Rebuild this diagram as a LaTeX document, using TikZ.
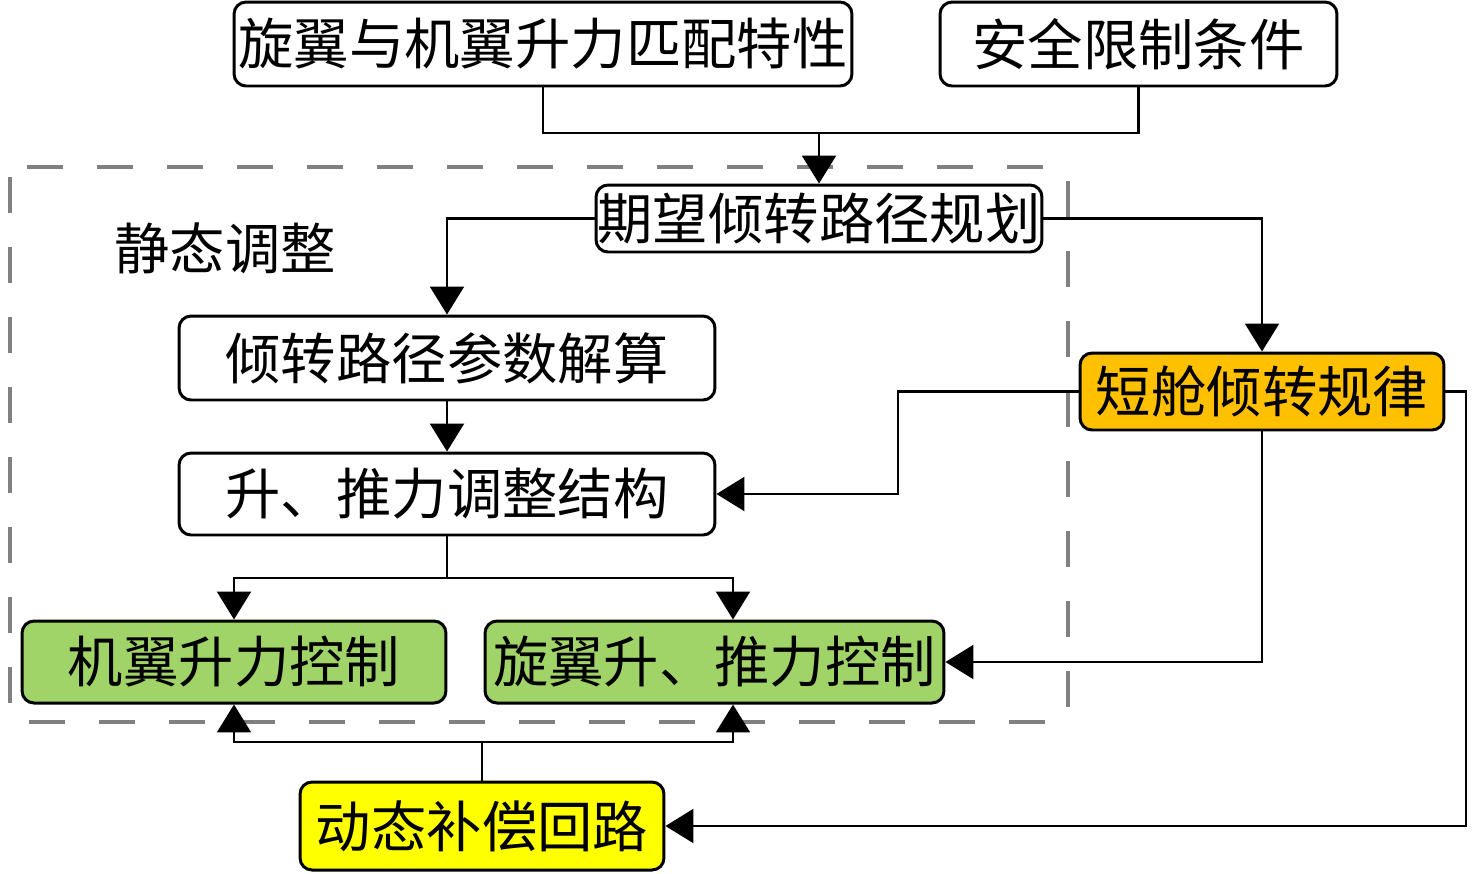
\documentclass[tikz,border=0pt]{standalone}
\usepackage{fontspec}
\setmainfont{Noto Sans CJK SC}
\usepackage{tikz}
\usetikzlibrary{arrows.meta, positioning, calc}
\usepackage{xcolor}
\definecolor{CtrlGreen}{HTML}{A0D468}
\definecolor{LawOrange}{HTML}{FFC000}
\definecolor{LoopYellow}{HTML}{FFFF00}
\definecolor{FrameGray}{HTML}{808080}
\tikzset{
    % Node styles
    planbox/.style={
        rectangle,
        rounded corners=0.24cm,
        draw=black,
        fill=white,
        line width=1.7pt,
        inner sep=0pt,
        text centered,
        font=\fontsize{31.5}{36}\selectfont
    },
    ctrlbox/.style={
        planbox,
        fill=CtrlGreen
    },
    % Arrow styles
    myline/.style={
        line width=1.3pt,
        black
    },
    myarrow/.style={
        myline,
        -{Triangle[length=0.56cm,width=0.68cm]}
    },
    % Frame style
    staticframe/.style={
        draw=FrameGray,
        line width=2pt,
        dash pattern=on 0.72cm off 0.68cm,
        rounded corners=0.2cm
    }
}
\begin{document}
\begin{tikzpicture}[x=0.02cm, y=-0.02cm]
    \useasboundingbox (0,0) rectangle (1476,873);

    % Static adjustment frame
    \draw[staticframe] (10,167) rectangle (1068,722);
    \node[font=\fontsize{31.5}{36}\selectfont] (stat) at (225,248) {静态调整};

    % Inputs
    \node[planbox,minimum width=12.36cm,minimum height=1.68cm] (match) at (543,44) {旋翼与机翼升力匹配特性};
    \node[planbox,minimum width=7.94cm,minimum height=1.68cm] (safe) at (1138.5,44) {安全限制条件};

    % Planning and solving
    \node[planbox,minimum width=8.92cm,minimum height=1.34cm] (plan) at (819,218.5) {期望倾转路径规划};
    \node[planbox,minimum width=10.72cm,minimum height=1.68cm] (solve) at (447,358) {倾转路径参数解算};
    \node[planbox,minimum width=10.72cm,minimum height=1.64cm] (adjust) at (447,494) {升、推力调整结构};

    % Control blocks
    \node[ctrlbox,minimum width=8.48cm,minimum height=1.64cm] (wing) at (234,662) {机翼升力控制};
    \node[ctrlbox,minimum width=9.18cm,minimum height=1.64cm] (rotor) at (714.5,662) {旋翼升、推力控制};

    % Nacelle law and compensation loop
    \node[planbox,fill=LawOrange,minimum width=7.28cm,minimum height=1.54cm] (nacelle) at (1262,391.5) {短舱倾转规律};
    \node[planbox,fill=LoopYellow,minimum width=7.28cm,minimum height=1.76cm] (loop) at (482,826) {动态补偿回路};

    % Branch points
    \coordinate (join) at (819,133);
    \coordinate (fork) at (447,578);
    \coordinate (merge) at (482,742);
    \coordinate (bendE) at (898,494);
    \coordinate (bendR) at (1466,391.5);

    % Arrows
    \draw[myline] (match.south) |- (join) -| (safe.south);
    \draw[myarrow] (join) -- (plan.north);
    \draw[myarrow] (plan.west) -| (solve.north);
    \draw[myarrow] (plan.east) -| (nacelle.north);
    \draw[myarrow] (solve.south) -- (adjust.north);
    \draw[myline] (adjust.south) -- (fork);
    \draw[myarrow] (fork) -| (wing.north);
    \draw[myarrow] (fork) -| ([xshift=0.37cm]rotor.north);
    \draw[myarrow] (nacelle.west) -| (bendE) -- (adjust.east);
    \draw[myarrow] (nacelle.south) |- (rotor.east);
    \draw[myarrow] (nacelle.east) -- (bendR) |- (loop.east);
    \draw[myline] (loop.north) -- (merge);
    \draw[myarrow] (merge) -| (wing.south);
    \draw[myarrow] (merge) -| ([xshift=0.37cm]rotor.south);
\end{tikzpicture}
\end{document}
